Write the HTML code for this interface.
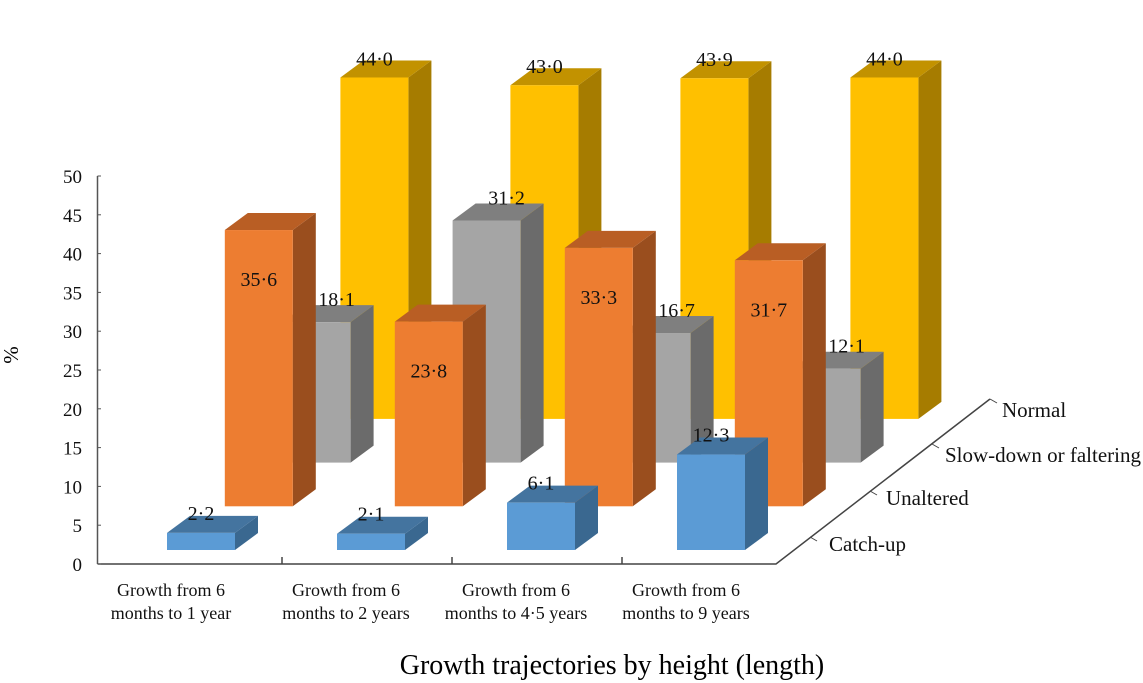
<!DOCTYPE html>
<html><head><meta charset="utf-8"><style>
html,body{margin:0;padding:0;background:#fff}
svg{display:block;font-family:"Liberation Serif",serif}
</style></head><body>
<svg id="chart" width="1143" height="683" viewBox="0 0 1143 683" xmlns="http://www.w3.org/2000/svg">
<g id="axes">
<line x1="97.5" y1="176" x2="97.5" y2="564" stroke="#555" stroke-width="1.5"/>
<polyline points="97.5,564 776,564 990,399" fill="none" stroke="#444" stroke-width="1.5"/>
<text transform="translate(18,355) rotate(-90)" font-size="21" text-anchor="middle">%</text>
<text x="612" y="674" font-size="28" text-anchor="middle">Growth trajectories by height (length)</text>
</g>
<g id="bars"></g>
<g id="labels"></g>
</svg>
<script>
const categories1 = ["Growth from 6", "Growth from  6", "Growth from  6", "Growth from  6"];
const categories2 = ["months to 1 year", "months to 2 years", "months to 4·5 years", "months to 9 years"];
const seriesNames = ["Catch-up", "Unaltered", "Slow-down or faltering", "Normal"];
const catchUp = [2.2, 2.1, 6.1, 12.3];
const unaltered = [35.6, 23.8, 33.3, 31.7];
const slowDown = [18.1, 31.2, 16.7, 12.1];
const normal = [44.0, 43.0, 43.9, 44.0];
const yTicks = [0, 5, 10, 15, 20, 25, 30, 35, 40, 45, 50];

const NS = "http://www.w3.org/2000/svg";
const svg = document.getElementById('chart');
const axes = document.getElementById('axes');
const barsG = document.getElementById('bars');
const labelsG = document.getElementById('labels');
const PX = 7.76;
function yScale(v){ return 564 - v * PX; }
function rowX(row){ return 167 + row * 57.8; }
function rowBase(row){ return 550 - row * 43.7; }
function catX(i){ return i * 170; }
function mk(tag, attrs, parent){
  const e = document.createElementNS(NS, tag);
  for (const k in attrs) e.setAttribute(k, attrs[k]);
  parent.appendChild(e); return e;
}
yTicks.forEach(t => {
  const y = yScale(t);
  const tl = mk('line', {x1:97.5, x2:101, y1:y, y2:y, stroke:'#555'}, axes);
  
  
  const tx = mk('text', {x:82, y:y+7, 'font-size':19, 'text-anchor':'end', fill:'#111'}, axes);
  tx.textContent = t;
  
  
});
[282, 452, 622].forEach(x => {
  const l = mk('line', {x1:x, x2:x, y1:557, y2:564, stroke:'#444', 'stroke-width':1.5}, axes);
  
  
});
categories1.forEach((c, i) => {
  const cx = 171 + catX(i) + (i>0 ? 5 : 0);
  const t = mk('text', {x:cx, 'font-size':18, 'text-anchor':'middle', fill:'#111'}, axes);
  
  
  const a = mk('tspan', {x:cx, y:596}, t); a.textContent = c;
  const b = mk('tspan', {x:cx, y:619}, t); b.textContent = categories2[i];
});
const depthTicks = [[810,537,829,551],[870,491,886,505],[932,444,945,462],[990,399,1002,417]];
seriesNames.forEach((s, r) => {
  const d = depthTicks[r];
  const tk = mk('line', {x1:d[0], y1:d[1], x2:d[0]+7, y2:d[1]+4, stroke:'#444'}, axes);
  
  
  const t = mk('text', {x:d[2], y:d[3], 'font-size':21, fill:'#111'}, axes);
  t.textContent = s;
  
  
});
const series = [catchUp, unaltered, slowDown, normal];
const colors = [
  {front:'#5B9BD5', top:'#44749F', side:'#3A6890'},
  {front:'#ED7D31', top:'#B95E24', side:'#9A4E1E'},
  {front:'#A5A5A5', top:'#7F7F7F', side:'#6B6B6B'},
  {front:'#FFC000', top:'#C29200', side:'#A67C00'}
];
const keys = ['catch-up', 'unaltered', 'slow-down', 'normal'];
const W = 68, DX = 23, DY = 17;
for (let r = 3; r >= 0; r--) {
  series[r].forEach((v, i) => {
    const x = rowX(r) + catX(i);
    const base = rowBase(r);
    const top = base - v * PX;
    const g = mk('g', {}, barsG);
    
    
    mk('polygon', {points:`${x+W},${base} ${x+W+DX},${base-DY} ${x+W+DX},${top-DY} ${x+W},${top}`, fill:colors[r].side}, g);
    mk('polygon', {points:`${x},${top} ${x+DX},${top-DY} ${x+W+DX},${top-DY} ${x+W},${top}`, fill:colors[r].top}, g);
    mk('rect', {x:x, y:top, width:W, height:base-top, fill:colors[r].front}, g);
    let lx = x + W/2, ly;
    if (r === 1) { ly = top + 56; }
    else if (r === 2) { lx += 20; ly = top - 16; }
    else if (r === 0) { ly = top - 13; }
    else { ly = top - 12; }
    const t = mk('text', {x:lx, y:ly, 'font-size':20, 'text-anchor':'middle', fill:'#111'}, labelsG);
    t.textContent = v.toFixed(1).replace('.', '·');
    
    
  });
}
</script>
</body></html>
